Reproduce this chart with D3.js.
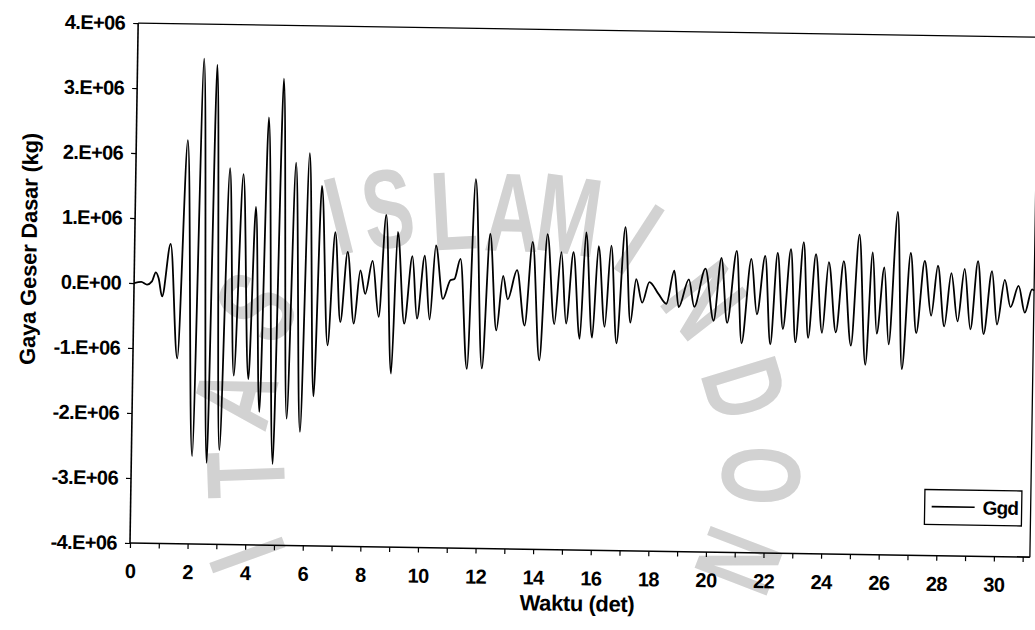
<!DOCTYPE html>
<html>
<head>
<meta charset="utf-8">
<script src="https://cdn.jsdelivr.net/npm/d3@7"></script>
<style>
  body { margin: 0; background: #fff; }
  svg { display: block; }
  text { font-family: "Liberation Sans", Arial, sans-serif; font-weight: bold; fill: #000; }
</style>
</head>
<body>
<svg id="chart" width="1035" height="630"></svg>
<script>
// Base shear time history (time in seconds, force in kg)
const waktu = [
  0, 0.25, 0.45, 0.62, 0.75, 0.85, 0.98, 1.25, 1.54, 1.79, 2.11, 2.31, 2.62, 2.77, 3.05, 3.27,
  3.51, 3.74, 4.02, 4.19, 4.42, 4.59, 4.91, 5.09, 5.37, 5.56, 5.84, 6.03, 6.29, 6.47, 6.75, 6.96,
  7.18, 7.40, 7.65, 7.85, 8.03, 8.27, 8.51, 8.72, 8.97, 9.13, 9.40, 9.65, 9.84, 10.08, 10.28, 10.46,
  10.73, 10.98, 11.12, 11.32, 11.60, 11.81, 12.12, 12.34, 12.60, 12.81, 12.98, 13.29, 13.58, 13.82,
  14.11, 14.33, 14.61, 14.82, 15.02, 15.24, 15.50, 15.67, 15.93, 16.11, 16.36, 16.55, 16.78, 17.03,
  17.25, 17.43, 17.65, 17.89, 18.21, 18.49, 18.75, 18.92, 19.26, 19.46, 19.83, 20.14, 20.38, 20.61,
  20.91, 21.12, 21.42, 21.64, 21.90, 22.12, 22.33, 22.55, 22.79, 22.99, 23.23, 23.43, 23.66, 23.91,
  24.11, 24.39, 24.63, 24.92, 25.16, 25.43, 25.63, 25.81, 26.04, 26.23, 26.48, 26.70, 26.95, 27.18,
  27.44, 27.69, 27.90, 28.15, 28.37, 28.61, 28.83, 29.06, 29.29, 29.52, 29.78, 29.98, 30.23, 30.44,
  30.71, 30.94, 31.18, 31.25
];
const gaya = [
  0, 0.02e6, -0.02e6, 0.03e6, 0.17e6, 0.08e6, -0.20e6, 0.61e6, -1.15e6, 2.21e6, -2.65e6, 3.47e6, -2.75e6, 3.38e6, -2.55e6, 1.79e6,
  -1.40e6, 1.70e6, -1.45e6, 1.20e6, -1.95e6, 2.58e6, -2.75e6, 3.18e6, -2.05e6, 1.89e6, -2.25e6, 2.04e6, -1.70e6, 1.54e6, -0.91e6, 0.83e6,
  -0.55e6, 0.53e6, -0.57e6, 0.25e6, -0.11e6, 0.40e6, -0.46e6, 1.11e6, -1.33e6, 0.85e6, -0.56e6, 0.48e6, -0.48e6, 0.49e6, -0.49e6, 0.65e6,
  -0.17e6, 0.12e6, 0.14e6, 0.45e6, -1.24e6, 1.68e6, -1.23e6, 0.84e6, -0.64e6, 0.20e6, -0.16e6, 0.29e6, -0.56e6, 0.73e6,
  -1.09e6, 0.85e6, -0.53e6, 0.58e6, -0.52e6, 0.58e6, -0.75e6, 0.89e6, -0.73e6, 0.68e6, -0.56e6, 0.69e6, -0.81e6, 0.98e6,
  -0.49e6, 0.18e6, -0.18e6, 0.14e6, -0.04e6, -0.19e6, 0.32e6, -0.24e6, 0.19e6, -0.23e6, 0.36e6, -0.44e6, 0.53e6, -0.47e6,
  0.64e6, -0.78e6, 0.52e6, -0.33e6, 0.57e6, -0.79e6, 0.62e6, -0.55e6, 0.68e6, -0.75e6, 0.79e6, -0.68e6, 0.61e6, -0.60e6,
  0.49e6, -0.59e6, 0.51e6, -0.79e6, 0.92e6, -1.08e6, 0.65e6, -0.60e6, 0.42e6, -0.76e6, 1.28e6, -1.14e6, 0.65e6, -0.58e6,
  0.53e6, -0.31e6, 0.46e6, -0.47e6, 0.35e6, -0.39e6, 0.42e6, -0.51e6, 0.54e6, -0.58e6, 0.39e6, -0.43e6, 0.26e6, -0.16e6,
  0.17e6, -0.24e6, 0.12e6, 0.10e6
];

// Axis ticks and their printed labels
const yTicks = [-4e6, -3e6, -2e6, -1e6, 0, 1e6, 2e6, 3e6, 4e6];
const yTickLabels = ["-4.E+06", "-3.E+06", "-2.E+06", "-1.E+06", "0.E+00", "1.E+06", "2.E+06", "3.E+06", "4.E+06"];
const xTicks = [0, 1, 2, 3, 4, 5, 6, 7, 8, 9, 10, 11, 12, 13, 14, 15, 16, 17, 18, 19, 20, 21, 22, 23, 24, 25, 26, 27, 28, 29, 30, 31];
const xTickLabels = ["0", "", "2", "", "4", "", "6", "", "8", "", "10", "", "12", "", "14", "", "16", "", "18", "", "20", "", "22", "", "24", "", "26", "", "28", "", "30", ""];
const seriesName = "Ggd";
const xTitle = "Waktu (det)";
const yTitle = "Gaya Geser Dasar (kg)";

// faint university seal behind the figure:
// each letter's direction from the seal centre (deg from top), distance, and glyph tilt
const sealLetters = ["I", "T", "A", "S", "I", "S", "L", "A", "M", "I", "N", "D", "O", "N"];
const sealAngles  = [-110, -92, -75, -56, -31.5, -22, -8.5, 4.5, 17, 33, 52, 73, 92, 111];
const sealRadii   = [262, 248, 268, 286, 295, 279, 260, 256, 264, 272, 271, 266, 271, 266];
const sealTilt    = [-110, -92, -75, -56, -14, -8, -3, 2, 8, 33, 52, 73, 92, 111];

const svg = d3.select("#chart");
svg.append("rect").attr("width", 1035).attr("height", 630).attr("fill", "#fff");

const seal = svg.append("g").attr("transform", "translate(492,466)");
seal.selectAll("text")
  .data(sealLetters)
  .join("text")
  .attr("transform", (c, i) => {
    const a = sealAngles[i] * Math.PI / 180;
    const px = sealRadii[i] * Math.sin(a), py = -sealRadii[i] * Math.cos(a);
    return `translate(${px.toFixed(1)},${py.toFixed(1)}) rotate(${sealTilt[i]}) scale(0.68,1)`;
  })
  .attr("text-anchor", "middle")
  .attr("dy", "0.36em")
  .attr("font-size", 112)
  .attr("font-weight", "bold")
  .style("fill", "#d2d2d2")
  .text(c => c);

// page is slightly skewed on the scanner bed
const g = svg.append("g").attr("transform", "rotate(0.9,130,543)");

const x = d3.scaleLinear().domain([0, 31.25]).range([130, 1030]);
const y = d3.scaleLinear().domain([-4e6, 4e6]).range([543, 23]);

// plot frame (top and right edges)
g.append("path")
  .attr("d", `M${x(0)},${y(4e6)}H${x(31.25)}V${y(-4e6)}`)
  .attr("fill", "none").attr("stroke", "#000").attr("stroke-width", 1.3);

// y axis
const yAxis = g.append("g").attr("transform", `translate(${x(0)},0)`)
  .call(d3.axisLeft(y).tickValues(yTicks).tickSize(5).tickPadding(8)
    .tickFormat((d, i) => yTickLabels[i]));
// x axis
const xAxis = g.append("g").attr("transform", `translate(0,${y(-4e6)})`)
  .call(d3.axisBottom(x).tickValues(xTicks).tickSize(5).tickPadding(16)
    .tickFormat((d, i) => xTickLabels[i]));

[yAxis, xAxis].forEach(a => {
  a.select(".domain").attr("stroke", "#000").attr("stroke-width", 1.6);
  a.selectAll(".tick line").attr("stroke", "#000").attr("stroke-width", 1.2);
  a.selectAll(".tick text").attr("font-size", 20).attr("font-weight", "bold")
    .attr("font-family", '"Liberation Sans", Arial, sans-serif').attr("fill", "#000")
    .attr("letter-spacing", -0.6);
});
xAxis.select(".domain").attr("d", `M${x(0)},0H${x(31.25)}`);
yAxis.select(".domain").attr("d", `M0,${y(4e6)}V${y(-4e6)}`);

// axis titles
g.append("text")
  .attr("x", x(15.55)).attr("y", 604)
  .attr("text-anchor", "middle").attr("font-size", 22).attr("letter-spacing", -0.4)
  .text(xTitle);
g.append("text")
  .attr("transform", `translate(32,${y(0.5e6)}) rotate(-90)`)
  .attr("text-anchor", "middle").attr("font-size", 22).attr("letter-spacing", -0.2)
  .text(yTitle);

// time history line
const pts = waktu.map((t, i) => ({ t, v: gaya[i] }));
g.append("path")
  .datum(pts)
  .attr("fill", "none")
  .attr("stroke", "#000")
  .attr("stroke-width", 1.8)
  .attr("stroke-linejoin", "round")
  .attr("d", d3.line().x(d => x(d.t)).y(d => y(d.v)).curve(d3.curveMonotoneX));

// legend
const lg = g.append("g").attr("transform", "translate(924,477)");
lg.append("rect").attr("width", 97).attr("height", 35)
  .attr("fill", "#fff").attr("stroke", "#000").attr("stroke-width", 1.3);
lg.append("line").attr("x1", 7).attr("x2", 50).attr("y1", 17).attr("y2", 17)
  .attr("stroke", "#000").attr("stroke-width", 1.7);
lg.append("text").attr("x", 58).attr("y", 24).attr("font-size", 19).attr("letter-spacing", -0.8)
  .text(seriesName);
</script>
</body>
</html>
